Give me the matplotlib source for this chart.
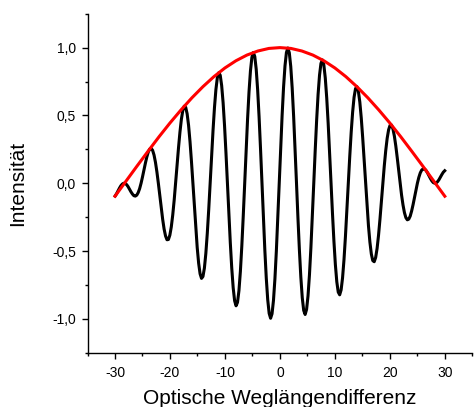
import matplotlib
matplotlib.use("Agg")
import matplotlib.pyplot as plt
import matplotlib.ticker as ticker
import numpy as np

plt.rcParams['font.family'] = ['Liberation Sans', 'DejaVu Sans']

# interferogram, sampled at constant phase steps from x=-29.966 to x=29.986
x_first = -29.966
x_last = 29.986
intensity = [
    -0.094, -0.077, -0.056, -0.036, -0.018, -0.006, 0.000, -0.002, -0.011, -0.026, -0.045, -0.064,
    -0.080, -0.092, -0.095, -0.088, -0.069, -0.040, 0.000, 0.047, 0.098, 0.148, 0.194, 0.230,
    0.252, 0.257, 0.243, 0.208, 0.154, 0.083, 0.000, -0.090, -0.182, -0.266, -0.338, -0.389,
    -0.417, -0.415, -0.383, -0.322, -0.234, -0.125, 0.000, 0.131, 0.260, 0.376, 0.471, 0.537,
    0.568, 0.560, 0.512, 0.427, 0.307, 0.162, 0.000, -0.168, -0.330, -0.474, -0.590, -0.668,
    -0.702, -0.688, -0.626, -0.518, -0.371, -0.195, 0.000, 0.200, 0.390, 0.558, 0.691, 0.779,
    0.815, 0.796, 0.720, 0.594, 0.424, 0.221, 0.000, -0.225, -0.439, -0.625, -0.771, -0.867,
    -0.904, -0.879, -0.793, -0.651, -0.463, -0.241, 0.000, 0.244, 0.474, 0.673, 0.828, 0.928,
    0.964, 0.935, 0.841, 0.689, 0.489, 0.254, 0.000, -0.255, -0.494, -0.700, -0.859, -0.960,
    -0.996, -0.963, -0.864, -0.706, -0.500, -0.259, 0.000, 0.259, 0.500, 0.707, 0.865, 0.964,
    0.997, 0.962, 0.861, 0.702, 0.495, 0.256, 0.000, -0.255, -0.490, -0.691, -0.844, -0.938,
    -0.968, -0.931, -0.831, -0.676, -0.476, -0.245, 0.000, 0.243, 0.466, 0.655, 0.797, 0.884,
    0.909, 0.872, 0.776, 0.629, 0.442, 0.227, 0.000, -0.223, -0.427, -0.599, -0.727, -0.803,
    -0.823, -0.787, -0.698, -0.564, -0.394, -0.202, 0.000, 0.197, 0.376, 0.524, 0.634, 0.697,
    0.712, 0.678, 0.598, 0.481, 0.335, 0.171, 0.000, -0.165, -0.313, -0.434, -0.522, -0.571,
    -0.579, -0.548, -0.481, -0.384, -0.265, -0.134, 0.000, 0.128, 0.240, 0.331, 0.394, 0.427,
    0.429, 0.401, 0.348, 0.275, 0.188, 0.094, 0.000, -0.087, -0.160, -0.217, -0.254, -0.270,
    -0.265, -0.243, -0.205, -0.158, -0.104, -0.050, 0.000, 0.043, 0.076, 0.097, 0.106, 0.105,
    0.094, 0.077, 0.056, 0.036, 0.018, 0.005, 0.000, 0.002, 0.011, 0.026, 0.045, 0.064,
    0.081, 0.092,
]

# envelope (red)
env_x = [-30, -28, -26, -24, -22, -20, -18, -16, -14, -12, -10, -8, -6, -4, -2, 0,
         2, 4, 6, 8, 10, 12, 14, 16, 18, 20, 22, 24, 26, 28, 30]
env_y = [-0.096, 0.015, 0.126, 0.235, 0.342, 0.444, 0.540, 0.630, 0.712, 0.786, 0.850,
         0.903, 0.945, 0.975, 0.994, 1.000, 0.994, 0.975, 0.945, 0.903, 0.850, 0.786,
         0.712, 0.630, 0.540, 0.444, 0.342, 0.235, 0.126, 0.015, -0.096]

x_vals = np.linspace(x_first, x_last, len(intensity))

fig = plt.figure(figsize=(4.74, 4.07), dpi=100)
ax = fig.add_axes([0.1846, 0.1334, 0.8118, 0.8329])

ax.plot(x_vals, intensity, color='black', lw=2.2, zorder=2)
ax.plot(env_x, env_y, color='#ff0000', lw=2.2, zorder=3)

ax.set_xlim(-35, 35)
ax.set_ylim(-1.25, 1.25)

ax.spines['top'].set_visible(False)
ax.spines['right'].set_visible(False)
for s in ['left', 'bottom']:
    ax.spines[s].set_linewidth(1.0)

ax.xaxis.set_major_locator(ticker.MultipleLocator(10))
ax.xaxis.set_minor_locator(ticker.MultipleLocator(5))
ax.yaxis.set_major_locator(ticker.MultipleLocator(0.5))
ax.yaxis.set_minor_locator(ticker.MultipleLocator(0.25))

ax.xaxis.set_major_formatter(ticker.FuncFormatter(
    lambda v, p: f"{v:.0f}" if abs(v) <= 30 else ""))
ax.yaxis.set_major_formatter(ticker.FuncFormatter(
    lambda v, p: f"{v:.1f}".replace('.', ',')))

ax.tick_params(which='major', direction='out', length=4.3, width=1.0, labelsize=10)
ax.tick_params(which='minor', direction='out', length=2.5, width=1.0)
ax.tick_params(axis='x', which='major', pad=5)
ax.tick_params(axis='y', which='major', pad=4)

ax.set_xlabel('Optische Weglängendifferenz', fontsize=15, labelpad=7)
ax.set_ylabel('Intensität', fontsize=15, labelpad=18)

fig.savefig('out.png', dpi=100)
